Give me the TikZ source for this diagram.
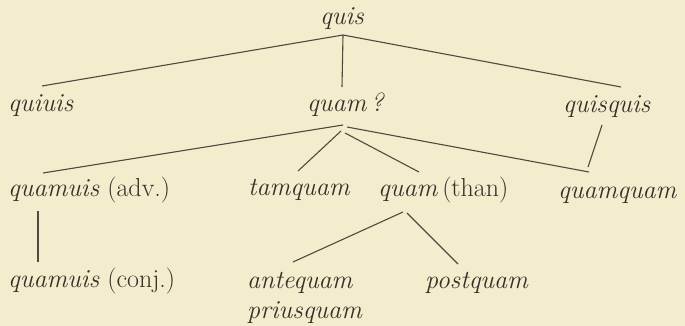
\documentclass[tikz,border=0pt]{standalone}
\usepackage{fontspec}
\definecolor{paper}{RGB}{243,236,205}
\definecolor{ink}{RGB}{52,48,42}
\definecolor{rule}{RGB}{78,74,66}
\begin{document}
\begin{tikzpicture}[x=1pt,y=-1pt,
  word/.style={anchor=base west,inner sep=0pt,text=ink,font=\fontsize{26}{30}\selectfont},
  branch/.style={draw=rule,line width=1.1pt}]
\useasboundingbox (0,0) rectangle (685,326);
\fill[paper] (0,0) rectangle (685,326);

% words, placed by their baselines
\node[word] (quis)     at (320,25)  {\textit{quis}};
\node[word] (quiuis)   at (8,112)   {\textit{quiuis}};
\node[word] (quamq)    at (307,112) {\textit{quam\,?}};
\node[word] (quisquis) at (563,113) {\textit{quisquis}};
\node[word] (quamuisadv)  at (8,196)   {\textit{quamuis} (adv.)};
\node[word] (tamquam)  at (248,195) {\textit{tamquam}};
\node[word] (quamthan) at (378,196) {\textit{quam}\,(than)};
\node[word] (quamquam) at (558,198) {\textit{quamquam}};
\node[word] (quamuisconj) at (8,287)  {\textit{quamuis} (conj.)};
\node[word] (antequam) at (247,288) {\textit{antequam}};
\node[word] (priusquam) at (247,318) {\textit{priusquam}};
\node[word] (postquam) at (425,288) {\textit{postquam}};

% branches
\draw[branch] ([shift={(23,10)}]quis.base west) -- ([shift={(34,-26)}]quiuis.base west);
\draw[branch] ([shift={(23,10)}]quis.base west) -- ([shift={(35,-25)}]quamq.base west);
\draw[branch] ([shift={(23,10)}]quis.base west) -- ([shift={(58,-26)}]quisquis.base west);

\draw[branch] ([shift={(36,13)}]quamq.base west) -- ([shift={(35,-23)}]quamuisadv.base west);
\draw[branch] ([shift={(34,19)}]quamq.base west) -- ([shift={(50,-24)}]tamquam.base west);
\draw[branch] ([shift={(38,21)}]quamq.base west) -- ([shift={(41,-24)}]quamthan.base west);
\draw[branch] ([shift={(40,15)}]quamq.base west) -- ([shift={(31,-26)}]quamquam.base west);

\draw[branch] ([shift={(39,12)}]quisquis.base west) -- ([shift={(30,-31)}]quamquam.base west);

\draw[branch] ([shift={(30,15)}]quamuisadv.base west) -- ([shift={(30,-25)}]quamuisconj.base west);

\draw[branch] ([shift={(25,16)}]quamthan.base west) -- ([shift={(46,-26)}]antequam.base west);
\draw[branch] ([shift={(29,17)}]quamthan.base west) -- ([shift={(33,-24)}]postquam.base west);
\end{tikzpicture}
\end{document}
